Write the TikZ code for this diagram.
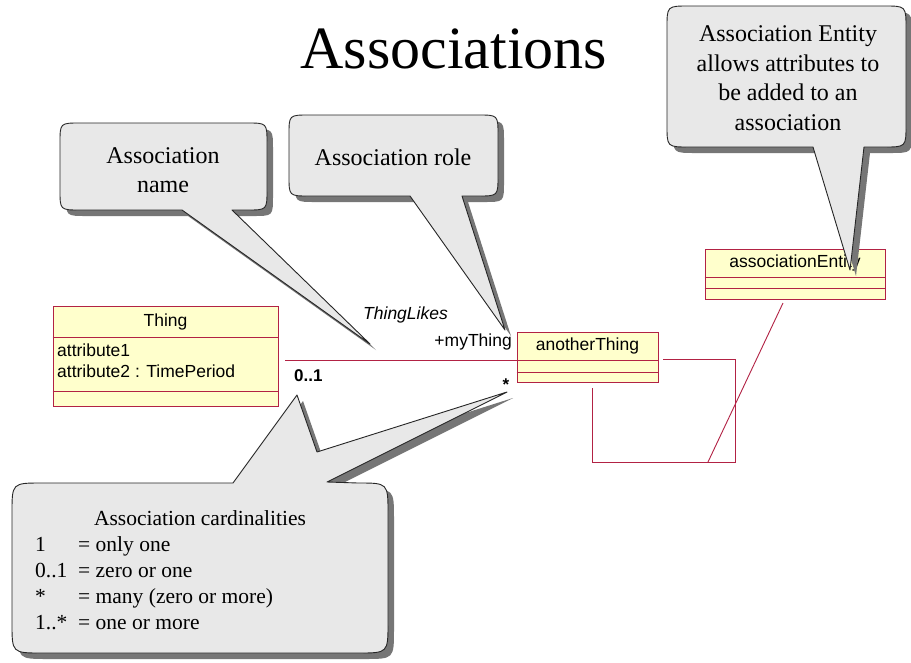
\documentclass[tikz,border=0pt]{standalone}
\usepackage{fontspec}
\setmainfont{Liberation Serif}
\newfontfamily\umlsans{Liberation Sans}
\definecolor{umlred}{RGB}{178,34,68}
\definecolor{umlfill}{RGB}{255,255,204}
\definecolor{bubblefill}{RGB}{232,232,232}
\definecolor{bubbleshade}{RGB}{118,118,118}

% outlines of the speech bubbles (rounded body plus pointer)
\newcommand\bubbleNamePath{(80,123) -- (247,123) .. controls (267,123) .. (267,143) -- (267,190) .. controls (267,210) .. (247,210) -- (232,210) -- (370,344) -- (182,210) -- (80,210) .. controls (60,210) .. (60,190) -- (60,143) .. controls (60,123) .. (80,123) -- cycle}
\newcommand\bubbleRolePath{(309,115) -- (478,115) .. controls (498,115) .. (498,135) -- (498,176) .. controls (498,196) .. (478,196) -- (462,196) -- (505,330) -- (410,196) -- (309,196) .. controls (289,196) .. (289,176) -- (289,135) .. controls (289,115) .. (309,115) -- cycle}
\newcommand\bubbleEntityPath{(689,6) -- (884,6) .. controls (906,6) .. (906,28) -- (906,125) .. controls (906,147) .. (884,147) -- (864,147) -- (850,270) -- (813,147) -- (689,147) .. controls (667,147) .. (667,125) -- (667,28) .. controls (667,6) .. (689,6) -- cycle}
\newcommand\bubbleCardPath{(42,483) -- (233,483) -- (297,395) -- (317,452) -- (507,392) -- (327,482) -- (358,483) .. controls (388,483) .. (388,513) -- (388,623) .. controls (388,653) .. (358,653) -- (42,653) .. controls (12,653) .. (12,623) -- (12,513) .. controls (12,483) .. (42,483) -- cycle}

\begin{document}
\begin{tikzpicture}[x=1pt,y=-1pt,
  classbox/.style={draw=umlred, fill=umlfill, line width=0.9pt, inner sep=0pt},
  umlline/.style={draw=umlred, line width=0.9pt},
  umltext/.style={font=\umlsans\fontsize{17.5}{21}\selectfont, inner sep=0pt},
  bubble/.style={fill=bubblefill, draw=black!85, line width=0.9pt, line join=round},
  bubbleshadow/.style={fill=bubbleshade},
  notetext/.style={font=\fontsize{24}{29.5}\selectfont, align=center, inner sep=0pt},
  cardtext/.style={font=\fontsize{21.5}{26}\selectfont, inner sep=0pt},
]
\path[use as bounding box, fill=white] (0,0) rectangle (911,662);
\clip (0,0) rectangle (911,662);

% title
\node[font=\fontsize{60}{70}\selectfont, anchor=base, inner sep=0pt] (title) at (454,68) {Associations};

% class Thing
\node[classbox, minimum width=225pt, minimum height=100pt] (thing) at (165.5,356) {};
\draw[umlline] (thing.west |- 0,337) -- (thing.east |- 0,337);
\draw[umlline] (thing.west |- 0,391) -- (thing.east |- 0,391);
\node[umltext] (thingname) at (thing.center |- 0,322) {Thing};
\node[umltext, anchor=base west] (thingattrA) at (57,356) {attribute1};
\node[umltext, anchor=base west] (thingattrB) at (57,377) {attribute2 : TimePeriod};

% class anotherThing
\node[classbox, minimum width=141pt, minimum height=50pt] (another) at (587.5,357) {};
\draw[umlline] (another.west |- 0,360) -- (another.east |- 0,360);
\draw[umlline] (another.west |- 0,372) -- (another.east |- 0,372);
\node[umltext] (anothername) at (another.center |- 0,346) {anotherThing};

% class associationEntity
\node[classbox, minimum width=180pt, minimum height=50pt] (entity) at (795,274) {};
\draw[umlline] (entity.west |- 0,277) -- (entity.east |- 0,277);
\draw[umlline] (entity.west |- 0,288) -- (entity.east |- 0,288);
\node[umltext] (entityname) at (entity.center |- 0,263) {associationEntity};

% association ThingLikes
\coordinate (assocstart) at (285,360);
\draw[umlline] (assocstart) -- (another.west |- assocstart);
\node[umltext, font=\umlsans\itshape\fontsize{17.5}{21}\selectfont, anchor=base west] (assocname) at (363,319) {ThingLikes};
\node[umltext, anchor=base east] (rolename) at (512,346) {+myThing};
\node[umltext, font=\umlsans\bfseries\fontsize{17}{21}\selectfont, anchor=base west] (multA) at (294,381) {0..1};
\node[umltext, font=\umlsans\bfseries\fontsize{17}{21}\selectfont, anchor=base] (multB) at (506,390) {*};

% reflexive association on anotherThing
\coordinate (loopA) at (663,359);
\coordinate (loopB) at (735,359);
\coordinate (loopC) at (735,462);
\coordinate (loopD) at (592,462);
\coordinate (loopE) at (592,388);
\draw[umlline] (loopA) -- (loopB) -- (loopC) -- (loopD) -- (loopE);

% link to the association entity
\coordinate (entlink) at (783,303);
\coordinate (entfoot) at (708,462);
\draw[umlline] (entlink) -- (entfoot);

% speech bubbles: shadow first, then body
\fill[bubbleshadow, shift={(6,6)}] \bubbleNamePath;
\path[bubble] \bubbleNamePath;
\node[notetext] (notename) at (163,170) {Association\\name};

\fill[bubbleshadow, shift={(6,6)}] \bubbleRolePath;
\path[bubble] \bubbleRolePath;
\node[notetext] (noterole) at (393,157) {Association role};

\fill[bubbleshadow, shift={(6,6)}] \bubbleEntityPath;
\path[bubble] \bubbleEntityPath;
\node[notetext] (noteentity) at (788,78) {Association Entity\\allows attributes to\\be added to an\\association};

\fill[bubbleshadow, shift={(6,6)}] \bubbleCardPath;
\path[bubble] \bubbleCardPath;
\node[cardtext, anchor=base] (cardhead) at (200,525) {Association cardinalities};
\node[cardtext, anchor=base west] (cardAl) at (35,551) {1};
\node[cardtext, anchor=base west] (cardAr) at (78,551) {= only one};
\node[cardtext, anchor=base west] (cardBl) at (35,577) {0..1};
\node[cardtext, anchor=base west] (cardBr) at (78,577) {= zero or one};
\node[cardtext, anchor=base west] (cardCl) at (35,603) {*};
\node[cardtext, anchor=base west] (cardCr) at (78,603) {= many (zero or more)};
\node[cardtext, anchor=base west] (cardDl) at (35,629) {1..*};
\node[cardtext, anchor=base west] (cardDr) at (78,629) {= one or more};
\end{tikzpicture}
\end{document}
